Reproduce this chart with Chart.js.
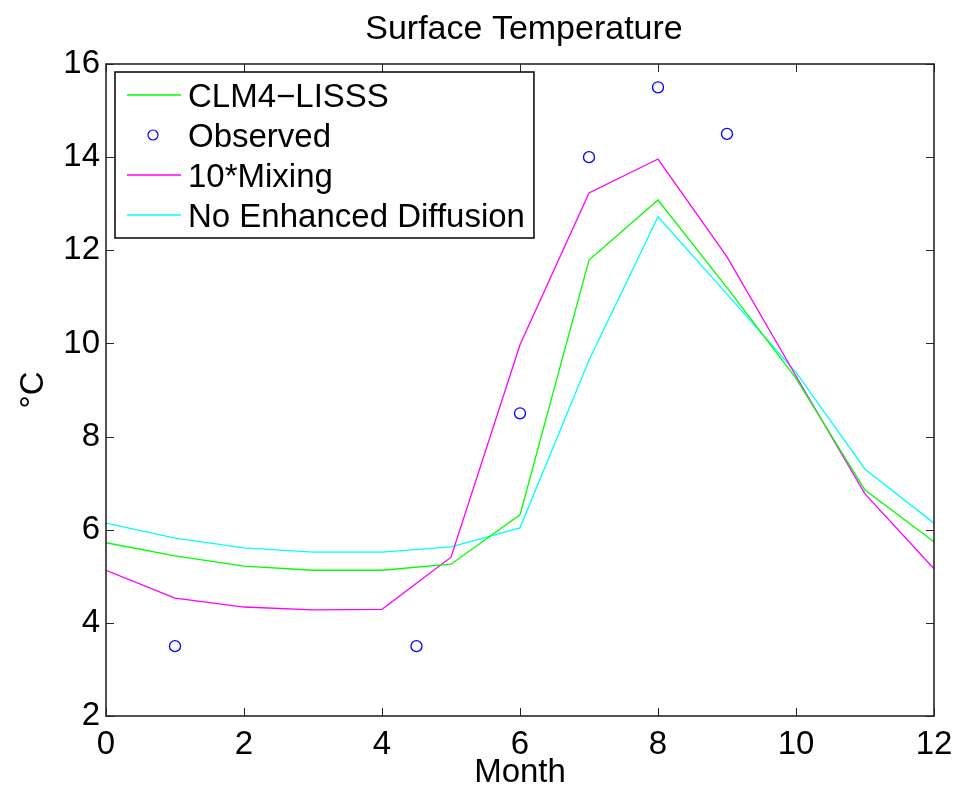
<!DOCTYPE html>
<html>
<head>
<meta charset="utf-8">
<script src="https://cdn.jsdelivr.net/npm/chart.js@4.4.1/dist/chart.umd.min.js"></script>
<style>
    html, body { margin: 0; padding: 0; background: #fff; }
    #wrap { width: 958px; height: 793px; }
</style>
</head>
<body>
<div id="wrap"><canvas id="chart" width="958" height="793"></canvas></div>
<script>
    // Monthly surface temperature, model runs vs observations
    const months = [0, 1, 2, 3, 4, 5, 6, 7, 8, 9, 10, 11, 12];
    const clm4Lisss = [5.72, 5.44, 5.22, 5.13, 5.13, 5.26, 6.32, 11.79, 13.08, 11.2, 9.25, 6.85, 5.74];
    const mixing10 = [5.13, 4.53, 4.34, 4.28, 4.29, 5.41, 9.97, 13.23, 13.96, 11.86, 9.3, 6.77, 5.16];
    const noEnhanced = [6.14, 5.82, 5.61, 5.52, 5.52, 5.63, 6.04, 9.64, 12.72, 11.06, 9.38, 7.3, 6.14];
    const obsMonths = [1, 4.5, 6, 7, 8, 9];
    const obsValues = [3.5, 3.5, 8.5, 14.0, 15.5, 14.5];
    const xTicks = [0, 2, 4, 6, 8, 10, 12];
    const yTicks = [2, 4, 6, 8, 10, 12, 14, 16];
    const chartTitle = "Surface Temperature";

    const FONT = '"Liberation Sans", Arial, Helvetica, sans-serif';
    const TICK_LEN = 8;

    const toPoints = (xs, ys) => xs.map((x, i) => ({ x: x, y: ys[i] }));

    const lineSet = (label, values, color) => ({
        label: label,
        data: toPoints(months, values),
        borderColor: color,
        backgroundColor: color,
        borderWidth: 1.3,
        pointRadius: 0,
        tension: 0,
        fill: false,
    });

    // title centred over the plot box, not the whole canvas
    const titlePlugin = {
        id: "boxTitle",
        afterDraw(chart) {
            const { ctx, chartArea: a } = chart;
            ctx.save();
            ctx.font = "34px " + FONT;
            ctx.fillStyle = "#000";
            ctx.textAlign = "center";
            ctx.textBaseline = "alphabetic";
            ctx.fillText(chartTitle, (a.left + a.right) / 2 + 4, 39);
            ctx.restore();
        },
    };

    // box + inward ticks on all four sides, like the old matlab figures
    const framePlugin = {
        id: "frame",
        afterDatasetsDraw(chart) {
            const { ctx, chartArea: a, scales } = chart;
            ctx.save();
            ctx.strokeStyle = "#262626";
            ctx.lineWidth = 1;
            ctx.beginPath();
            scales.x.ticks.forEach((t) => {
                const px = Math.round(scales.x.getPixelForValue(t.value)) + 0.5;
                ctx.moveTo(px, a.bottom);
                ctx.lineTo(px, a.bottom - TICK_LEN);
                ctx.moveTo(px, a.top);
                ctx.lineTo(px, a.top + TICK_LEN);
            });
            scales.y.ticks.forEach((t) => {
                const py = Math.round(scales.y.getPixelForValue(t.value)) + 0.5;
                ctx.moveTo(a.left, py);
                ctx.lineTo(a.left + TICK_LEN, py);
                ctx.moveTo(a.right, py);
                ctx.lineTo(a.right - TICK_LEN, py);
            });
            ctx.stroke();
            ctx.lineWidth = 1.6;
            ctx.strokeRect(a.left, a.top, a.right - a.left, a.bottom - a.top);
            ctx.restore();
        },
    };

    const legendPlugin = {
        id: "boxLegend",
        afterDraw(chart) {
            const { ctx, chartArea: a } = chart;
            const items = chart.data.datasets;
            ctx.save();
            ctx.font = "33px " + FONT;
            const textW = Math.max(...items.map((d) => ctx.measureText(d.label).width));
            const bx = a.left + 9;
            const by = a.top + 8;
            const bw = 73 + textW + 9;
            const bh = 166;
            ctx.fillStyle = "#fff";
            ctx.fillRect(bx, by, bw, bh);
            ctx.strokeStyle = "#000";
            ctx.lineWidth = 1.5;
            ctx.strokeRect(bx, by, bw, bh);
            items.forEach((d, i) => {
                const cy = by + 23 + i * 40;
                if (d.showLine === false) {
                    ctx.strokeStyle = d.pointBorderColor;
                    ctx.lineWidth = 1.2;
                    ctx.beginPath();
                    ctx.arc(bx + 38, cy, 5, 0, Math.PI * 2);
                    ctx.stroke();
                } else {
                    ctx.strokeStyle = d.borderColor;
                    ctx.lineWidth = 1.3;
                    ctx.beginPath();
                    ctx.moveTo(bx + 12, cy);
                    ctx.lineTo(bx + 66, cy);
                    ctx.stroke();
                }
                ctx.fillStyle = "#000";
                ctx.textBaseline = "alphabetic";
                ctx.fillText(d.label, bx + 73, cy + 12);
            });
            ctx.restore();
        },
    };

    const chart = new Chart(document.getElementById("chart").getContext("2d"), {
        type: "line",
        data: {
            datasets: [
                lineSet("CLM4\u2212LISSS", clm4Lisss, "#00ff00"),
                {
                    label: "Observed",
                    data: toPoints(obsMonths, obsValues),
                    showLine: false,
                    pointStyle: "circle",
                    pointRadius: 5.5,
                    pointBorderWidth: 1.3,
                    pointBorderColor: "#0000ff",
                    pointBackgroundColor: "rgba(0,0,0,0)",
                    borderColor: "#0000ff",
                },
                lineSet("10*Mixing", mixing10, "#ff00ff"),
                lineSet("No Enhanced Diffusion", noEnhanced, "#00ffff"),
            ],
        },
        options: {
            responsive: false,
            animation: false,
            devicePixelRatio: 1,
            layout: { padding: { left: 0, right: 24, top: 64, bottom: 0 } },
            plugins: {
                legend: { display: false },
                tooltip: { enabled: false },
                title: { display: false },
            },
            scales: {
                x: {
                    type: "linear",
                    min: 0,
                    max: 12,
                    afterBuildTicks: (scale) => {
                        scale.ticks = xTicks.map((v) => ({ value: v }));
                    },
                    ticks: {
                        color: "#000",
                        font: { family: FONT, size: 33 },
                        padding: 9,
                        maxRotation: 0,
                        autoSkip: false,
                    },
                    grid: { display: false, drawTicks: false },
                    border: { display: false },
                    title: {
                        display: true,
                        text: "Month",
                        color: "#000",
                        font: { family: FONT, size: 33 },
                        padding: { top: 0, bottom: 0 },
                    },
                    afterFit: (scale) => {
                        scale.height = 77;
                        scale.paddingLeft = 0;
                        scale.paddingRight = 0;
                    },
                },
                y: {
                    type: "linear",
                    min: 2,
                    max: 16,
                    afterBuildTicks: (scale) => {
                        scale.ticks = yTicks.map((v) => ({ value: v }));
                    },
                    ticks: {
                        color: "#000",
                        font: { family: FONT, size: 33 },
                        padding: 6,
                        autoSkip: false,
                    },
                    grid: { display: false, drawTicks: false },
                    border: { display: false },
                    title: {
                        display: true,
                        text: "\u00b0C",
                        color: "#000",
                        font: { family: FONT, size: 33 },
                        padding: { top: 14, bottom: 0 },
                    },
                    afterFit: (scale) => {
                        scale.width = 106;
                        scale.paddingTop = 0;
                        scale.paddingBottom = 0;
                    },
                },
            },
        },
        plugins: [framePlugin, legendPlugin, titlePlugin],
    });
</script>
</body>
</html>
